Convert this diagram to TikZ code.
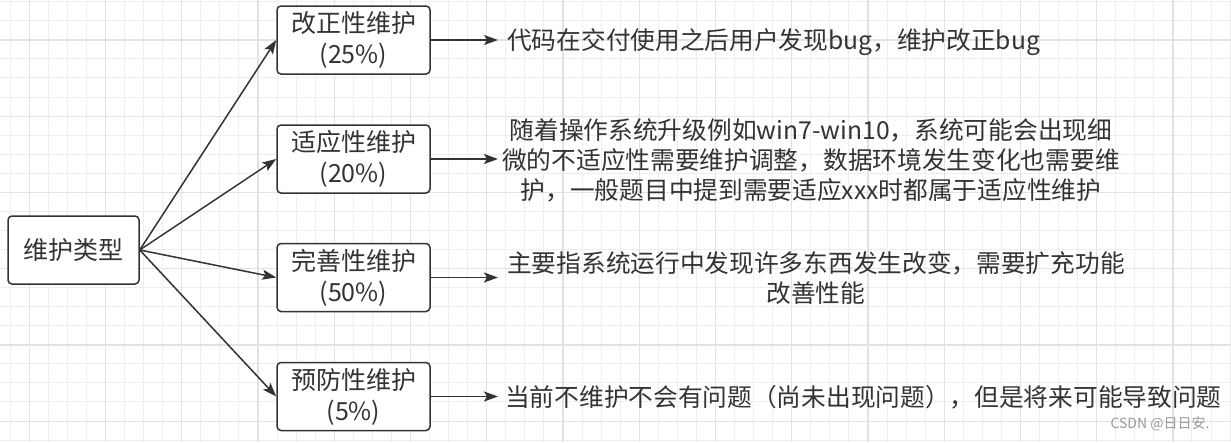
\documentclass[tikz,border=0pt]{standalone}
\usepackage{fontspec}
\setmainfont{Noto Sans CJK SC}
\usetikzlibrary{arrows.meta}
\definecolor{ink}{HTML}{333333}
\definecolor{gminor}{HTML}{EEEEEE}
\definecolor{gmajor}{HTML}{E2E2E2}
\definecolor{wm}{HTML}{9A9A9A}
\begin{document}
\begin{tikzpicture}[x=1pt,y=-1pt,
  gridminor/.style={draw=gminor, line width=1pt},
  gridmajor/.style={draw=gmajor, line width=1.3pt},
  box/.style={draw=ink, line width=1.5pt, rounded corners=4pt, fill=white, text=ink,
    align=center, minimum width=153pt, minimum height=68pt, inner sep=0pt,
    font=\fontsize{25}{31}\selectfont},
  desc/.style={text=ink, align=center, anchor=west, inner ysep=0pt,
    font=\fontsize{24.7}{30}\selectfont},
  arr/.style={draw=ink, line width=1.5pt, -{Stealth[length=14pt,width=10pt,inset=3pt]}}]
\useasboundingbox (0,0) rectangle (1231,442);
\fill[white] (0,0) rectangle (1231,442);
% grid
\foreach \k in {0,...,64} \draw[gridminor] ({10.24+\k*19.06},0) -- ++(0,442);
\foreach \k in {0,...,23} \draw[gridminor] (0,{1.7+\k*19.06}) -- ++(1231,0);
\foreach \k in {0,...,16} \draw[gridmajor] ({29.3+\k*76.24},0) -- ++(0,442);
\foreach \k in {0,...,5} \draw[gridmajor] (0,{40+\k*76.24}) -- ++(1231,0);
% nodes
\node[box, minimum width=131pt] (main) at (73.5,250) {维护类型};
\node[box] (b1) at (353.5,40) {改正性维护\\(25\%)};
\node[box] (b2) at (353.5,159) {适应性维护\\(20\%)};
\node[box] (b3) at (353.5,277.5) {完善性维护\\(50\%)};
\node[box] (b4) at (353.5,396.5) {预防性维护\\(5\%)};
\node[desc, inner xsep=9pt] (t1) at (498,42) {代码在交付使用之后用户发现bug，维护改正bug};
\node[desc, inner xsep=4pt] (t2) at (498,160) {随着操作系统升级例如win7-win10，系统可能会出现细\\微的不适应性需要维护调整，数据环境发生变化也需要维\\护，一般题目中提到需要适应xxx时都属于适应性维护};
\node[desc, inner xsep=9pt] (t3) at (498,278) {主要指系统运行中发现许多东西发生改变，需要扩充功能\\改善性能};
\node[desc, inner xsep=7pt] (t4) at (498,397) {当前不维护不会有问题（尚未出现问题），但是将来可能导致问题};
\node[text=wm, font=\fontsize{14}{16}\selectfont, inner sep=0pt] (wmk) at (1160,424) {CSDN @日日安.};
% connectors
\draw[arr] (main.east) -- (b1.west);
\draw[arr] (main.east) -- (b2.west);
\draw[arr] (main.east) -- (b3.west);
\draw[arr] (main.east) -- (b4.west);
\draw[arr] (b1.east) -- (b1.east -| t1.west);
\draw[arr] (b2.east) -- (b2.east -| t2.west);
\draw[arr] (b3.east) -- (b3.east -| t3.west);
\draw[arr] (b4.east) -- (b4.east -| t4.west);
\end{tikzpicture}
\end{document}
